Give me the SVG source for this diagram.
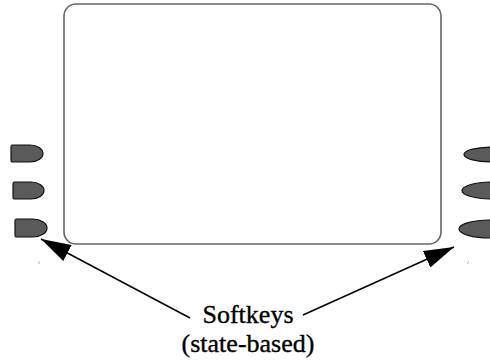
<svg xmlns="http://www.w3.org/2000/svg" width="490" height="360" viewBox="0 0 490 360">
<style>
.screen{fill:#fff;stroke:#666;stroke-width:1.6}
.key{fill:#5a5a5a;stroke:#111;stroke-width:1.2}
.conn{stroke:#000;stroke-width:1.5;fill:none}
.tick{stroke:#bbb;stroke-width:1}
.lbl{font-family:"Liberation Serif","Times New Roman",serif;font-size:26px;fill:#000;stroke:#000;stroke-width:0.35;text-anchor:middle}
</style>
<defs>
<marker id="ah" viewBox="0 0 30 18" refX="30" refY="9" markerWidth="30" markerHeight="18" markerUnits="userSpaceOnUse" orient="auto">
<path d="M0,0 L30,9 L0,18 Z" fill="#000"/>
</marker>
</defs>
<g id="screen"><rect class="screen" x="64" y="4" width="377" height="240" rx="12"/></g>
<g id="left-keys">
<path class="key" d="M12,145 H30 A13,8.5 0 0 1 30,162 H12 Q11,162 11,160 V147 Q11,145 12,145 Z"/>
<path class="key" d="M14,182 H31 A13,8.5 0 0 1 31,199 H14 Q13,199 13,197 V184 Q13,182 14,182 Z"/>
<path class="key" d="M16,219 H33 A14,9 0 0 1 33,237 H16 Q15,237 15,235 V221 Q15,219 16,219 Z"/>
</g>
<g id="right-keys">
<ellipse class="key" cx="493" cy="154.5" rx="29" ry="7.5"/>
<ellipse class="key" cx="492" cy="190.5" rx="30" ry="8.5"/>
<ellipse class="key" cx="490" cy="229" rx="31" ry="9"/>
</g>
<g id="ticks">
<line class="tick" x1="39" y1="261" x2="39" y2="264"/>
<line class="tick" x1="468.5" y1="261" x2="467.5" y2="264"/>
</g>
<g id="connectors">
<line class="conn" x1="190" y1="318" x2="41" y2="239" marker-end="url(#ah)"/>
<line class="conn" x1="303" y1="315" x2="454" y2="247" marker-end="url(#ah)"/>
</g>
<g id="label">
<text class="lbl" x="248" y="323">Softkeys</text>
<text class="lbl" x="248" y="352">(state-based)</text>
</g>
</svg>
